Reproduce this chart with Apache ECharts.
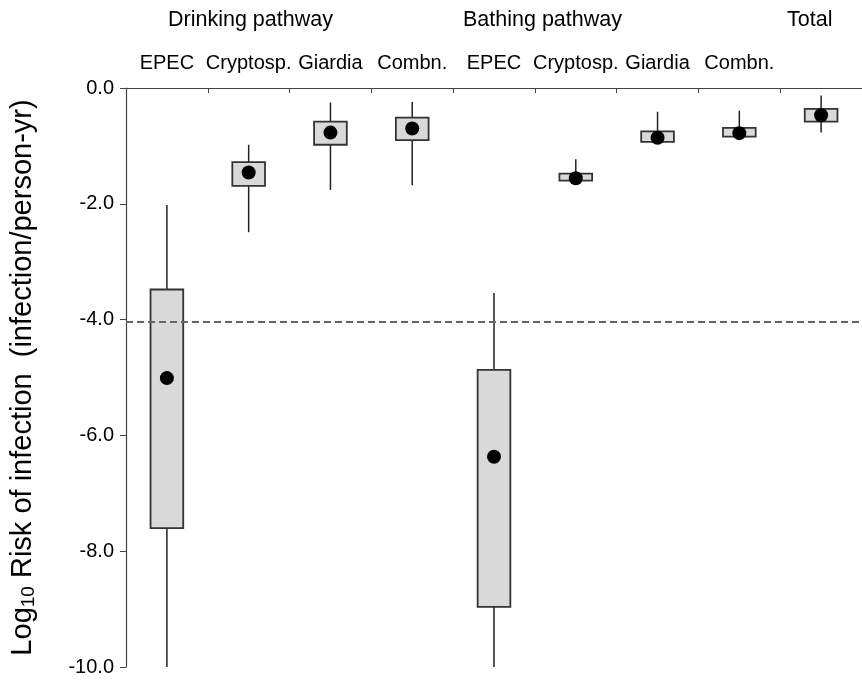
<!DOCTYPE html>
<html>
<head>
<meta charset="utf-8">
<script src="https://cdn.jsdelivr.net/npm/echarts@6/dist/echarts.min.js"></script>
<style>
  html, body { margin: 0; padding: 0; background: #fff; }
  #chart { width: 862px; height: 682px; }
</style>
</head>
<body>
<div id="chart"></div>
<script>
// Log10 annual infection risk by pathogen and exposure pathway
var categories = ['EPEC', 'Cryptosp.', 'Giardia', 'Combn.', 'EPEC', 'Cryptosp.', 'Giardia', 'Combn.', ''];
var groupLabels = ['Drinking pathway', 'Bathing pathway', 'Total'];
var yTicks = [-10, -8, -6, -4, -2, 0];

// whisker low, box bottom, box top, whisker high
var whiskerLow  = [-10.0, -2.49, -1.76, -1.68, -10.0, -1.60, -0.93, -0.84, -0.77];
var boxLow      = [-7.60, -1.69, -0.98, -0.90, -8.96, -1.60, -0.93, -0.84, -0.58];
var boxHigh     = [-3.48, -1.28, -0.58, -0.51, -4.87, -1.48, -0.75, -0.69, -0.36];
var whiskerHigh = [-2.02, -0.98, -0.25, -0.24, -3.54, -1.23, -0.41, -0.39, -0.13];
var medians     = [-5.01, -1.46, -0.77, -0.70, -6.37, -1.56, -0.86, -0.78, -0.47];
var threshold = -4.04;

var boxData = categories.map(function (c, i) {
  return [i, whiskerLow[i], boxLow[i], boxHigh[i], whiskerHigh[i]];
});
var medianData = categories.map(function (c, i) { return [i, medians[i]]; });

var chart = echarts.init(document.getElementById('chart'));
var font = 'Liberation Sans, Arial, sans-serif';

chart.setOption({
  animation: false,
  backgroundColor: '#ffffff',
  grid: { left: 125, top: 88, width: 738, height: 579, containLabel: false },
  xAxis: {
    type: 'category',
    data: categories,
    position: 'top',
    boundaryGap: true,
    axisLine: { show: true, lineStyle: { color: '#444', width: 1.2 } },
    axisTick: { show: true, inside: true, length: 5, interval: 0, lineStyle: { color: '#444' } },
    axisLabel: { interval: 0, margin: 15, color: '#000', fontSize: 20, fontFamily: font },
    splitLine: { show: false }
  },
  yAxis: {
    type: 'value',
    min: yTicks[0],
    max: yTicks[yTicks.length - 1],
    interval: 2,
    axisLine: { show: true, lineStyle: { color: '#444', width: 1.2 } },
    axisTick: { show: true, length: 6, lineStyle: { color: '#444' } },
    axisLabel: {
      margin: 12, color: '#000', fontSize: 20, fontFamily: font,
      formatter: function (v) { return v.toFixed(1); }
    },
    splitLine: { show: false },
    name: '{a|Log}{s|10}{a| Risk of infection  (infection/person-yr)}',
    nameLocation: 'middle',
    nameGap: 88,
    nameRotate: 90,
    nameTextStyle: {
      rich: {
        a: { fontSize: 29, color: '#000', fontFamily: font },
        s: { fontSize: 19, color: '#000', fontFamily: font, padding: [12, 0, 0, 0] }
      }
    }
  },
  series: [
    {
      type: 'custom',
      data: boxData,
      z: 2,
      renderItem: function (params, api) {
        var x = api.value(0);
        var lo = api.coord([x, api.value(1)]);
        var q1 = api.coord([x, api.value(2)]);
        var q3 = api.coord([x, api.value(3)]);
        var hi = api.coord([x, api.value(4)]);
        var half = api.size([1, 0])[0] * 0.2;
        var line = { stroke: '#222', lineWidth: 1.5 };
        return {
          type: 'group',
          children: [
            { type: 'line', shape: { x1: hi[0], y1: hi[1], x2: q3[0], y2: q3[1] }, style: line },
            { type: 'line', shape: { x1: q1[0], y1: q1[1], x2: lo[0], y2: lo[1] }, style: line },
            {
              type: 'rect',
              shape: { x: q3[0] - half, y: q3[1], width: half * 2, height: q1[1] - q3[1] },
              style: { fill: '#d9d9d9', stroke: '#333', lineWidth: 1.8 }
            }
          ]
        };
      }
    },
    {
      type: 'scatter',
      data: medianData,
      symbol: 'circle',
      symbolSize: 14,
      z: 3,
      itemStyle: { color: '#000', opacity: 1 },
      markLine: {
        silent: true,
        symbol: ['none', 'none'],
        label: { show: false },
        lineStyle: { color: '#666', type: [7, 4], width: 2 },
        data: [{ yAxis: threshold }]
      }
    }
  ],
  graphic: [
    { type: 'text', left: 168, top: 9, style: { text: groupLabels[0], fontSize: 21.5, fontFamily: font, fill: '#000' } },
    { type: 'text', left: 463, top: 9, style: { text: groupLabels[1], fontSize: 21.5, fontFamily: font, fill: '#000' } },
    { type: 'text', left: 787, top: 9, style: { text: groupLabels[2], fontSize: 21.5, fontFamily: font, fill: '#000' } }
  ]
});
</script>
</body>
</html>
